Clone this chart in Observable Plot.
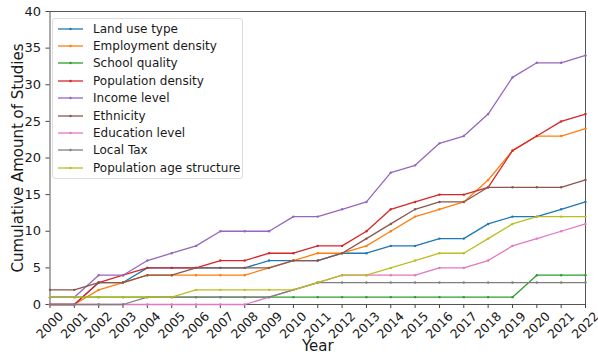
<!DOCTYPE html>
<html>
<head>
<meta charset="utf-8">
<script src="https://cdn.jsdelivr.net/npm/d3@7"></script>
<script src="https://cdn.jsdelivr.net/npm/@observablehq/plot@0.6"></script>
<style>
  html, body { margin: 0; padding: 0; background: #fff; }
  #wrap { position: relative; width: 598px; height: 360px; font-family: "DejaVu Sans", sans-serif; }
  #legend {
    position: absolute; left: 52px; top: 18px; width: 191px;
    padding: 1px 0 1px 0; box-sizing: border-box;
    border: 1px solid #dcdcdc; border-radius: 3px; background: rgba(255,255,255,0.85);
    font-size: 12px; color: #1a1a1a; white-space: nowrap;
  }
  .row { display: flex; align-items: center; height: 17.4px; }
  .row svg { margin-left: 5px; margin-right: 10px; flex: none; }
</style>
</head>
<body>
<div id="wrap"><div id="legend"></div></div>
<script>
// Publication years on the x axis
const years = [2000, 2001, 2002, 2003, 2004, 2005, 2006, 2007, 2008, 2009, 2010,
               2011, 2012, 2013, 2014, 2015, 2016, 2017, 2018, 2019, 2020, 2021, 2022];

// Cumulative number of studies per factor, one value per year
const landUse      = [0, 0, 3, 3, 5, 5, 5, 5, 5, 6, 6, 6, 7, 7, 8, 8, 9, 9, 11, 12, 12, 13, 14];
const employment   = [0, 0, 2, 3, 4, 4, 4, 4, 4, 5, 6, 7, 7, 8, 10, 12, 13, 14, 17, 21, 23, 23, 24];
const school       = [1, 1, 1, 1, 1, 1, 1, 1, 1, 1, 1, 1, 1, 1, 1, 1, 1, 1, 1, 1, 4, 4, 4];
const population   = [0, 0, 3, 4, 5, 5, 5, 6, 6, 7, 7, 8, 8, 10, 13, 14, 15, 15, 16, 21, 23, 25, 26];
const income       = [1, 1, 4, 4, 6, 7, 8, 10, 10, 10, 12, 12, 13, 14, 18, 19, 22, 23, 26, 31, 33, 33, 34];
const ethnicity    = [2, 2, 3, 3, 4, 4, 5, 5, 5, 5, 6, 6, 7, 9, 11, 13, 14, 14, 16, 16, 16, 16, 17];
const education    = [0, 0, 0, 0, 0, 0, 0, 0, 0, 1, 2, 3, 4, 4, 4, 4, 5, 5, 6, 8, 9, 10, 11];
const localTax     = [0, 0, 0, 0, 1, 1, 1, 1, 1, 1, 2, 3, 3, 3, 3, 3, 3, 3, 3, 3, 3, 3, 3];
const ageStructure = [1, 1, 1, 1, 1, 1, 2, 2, 2, 2, 2, 3, 4, 4, 5, 6, 7, 7, 9, 11, 12, 12, 12];

const seriesNames = ["Land use type", "Employment density", "School quality", "Population density",
                     "Income level", "Ethnicity", "Education level", "Local Tax", "Population age structure"];
const seriesValues = [landUse, employment, school, population, income, ethnicity, education, localTax, ageStructure];
const seriesColors = ["#1f77b4", "#ff7f0e", "#2ca02c", "#d62728", "#9467bd",
                      "#8c564b", "#e377c2", "#7f7f7f", "#bcbd22"];

const yTicks = [0, 5, 10, 15, 20, 25, 30, 35, 40];

// Long-format table for the line marks
const rows = seriesNames.flatMap((name, i) =>
  years.map((year, j) => ({ name, year, value: seriesValues[i][j] })));

const chart = Plot.plot({
  width: 598,
  height: 360,
  marginLeft: 49.5,
  marginRight: 13,
  marginTop: 11,
  marginBottom: 56,
  style: { fontFamily: "DejaVu Sans, sans-serif", fontSize: "13px", color: "#1a1a1a", background: "#fff" },
  x: { domain: [2000, 2022] },
  y: { domain: [0, 40] },
  color: { domain: seriesNames, range: seriesColors },
  marks: [
    Plot.frame({ stroke: "#444", strokeWidth: 0.9 }),
    Plot.axisX({
      ticks: years, tickFormat: () => "", tickSize: 4,
      label: "Year", labelAnchor: "center", labelArrow: "none",
      labelOffset: 46, stroke: "#444"
    }),
    // Year labels tilted 45°, centred under their ticks
    Plot.text(years, {
      x: d => d, frameAnchor: "bottom", text: d => String(d),
      rotate: -45, textAnchor: "middle", lineAnchor: "middle",
      dy: 21, fontSize: 12.5, fill: "#1a1a1a"
    }),
    Plot.axisY({
      ticks: yTicks, tickSize: 4, fontSize: 13, label: "Cumulative Amount of Studies",
      labelAnchor: "center", labelArrow: "none", labelOffset: 38, stroke: "#444"
    }),
    Plot.line(rows, { x: "year", y: "value", z: "name", stroke: "name", strokeWidth: 1.3 }),
    Plot.dot(rows, { x: "year", y: "value", fill: "name", r: 1.2 })
  ]
});

// Enlarge the axis titles
d3.select(chart).selectAll("[aria-label='x-axis label'] text, [aria-label='y-axis label'] text")
  .style("font-size", "15px");

const wrap = document.getElementById("wrap");
wrap.insertBefore(chart, wrap.firstChild);

// Legend box in the upper-left corner of the plot area
const legend = d3.select("#legend");
seriesNames.forEach((name, i) => {
  const row = legend.append("div").attr("class", "row");
  const sw = row.append("svg").attr("width", 25).attr("height", 10);
  sw.append("line").attr("x1", 0).attr("x2", 25).attr("y1", 5).attr("y2", 5)
    .attr("stroke", seriesColors[i]).attr("stroke-width", 1.3);
  sw.append("circle").attr("cx", 12.5).attr("cy", 5).attr("r", 1.2).attr("fill", seriesColors[i]);
  row.append("span").text(name);
});
</script>
</body>
</html>
